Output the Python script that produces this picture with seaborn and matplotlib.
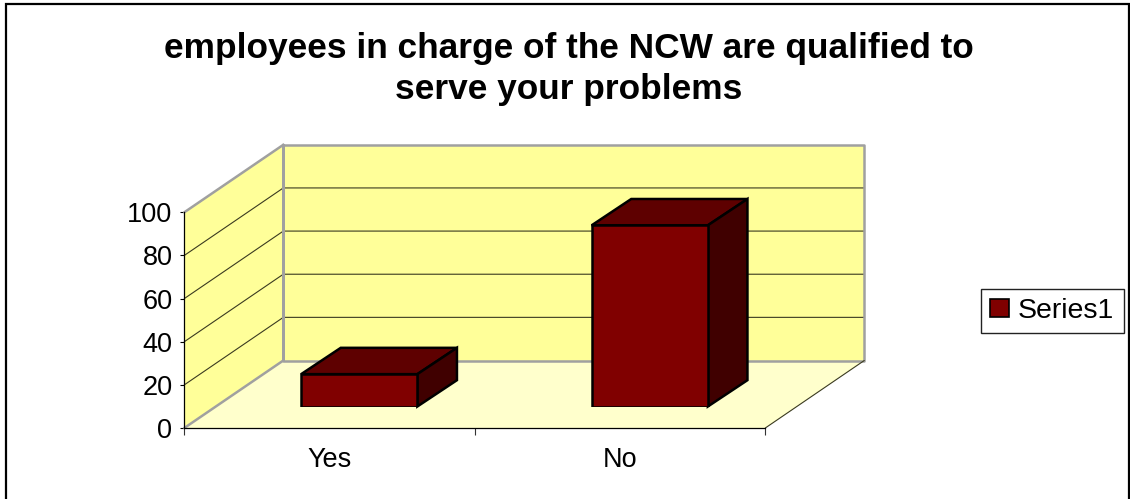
import pandas as pd
import matplotlib.pyplot as plt
import seaborn as sns
from matplotlib.patches import Polygon, Rectangle

# Values
categories = ['Yes', 'No']
values = [15, 84]
series_name = 'Series1'
y_ticks = [0, 20, 40, 60, 80, 100]
title = 'employees in charge of the NCW are qualified to\nserve your problems'

W, H = 1130, 499
sns.set_style('white')
plt.rcParams['font.family'] = ['Liberation Sans', 'DejaVu Sans']
plt.rcParams['text.color'] = 'black'

df = pd.DataFrame({'answer': categories, 'percent': values, 'series': series_name})

fig = plt.figure(figsize=(W / 100, H / 100), dpi=100)
fig.patch.set_facecolor('white')


def px_axes(left, right, top, bottom):
    return fig.add_axes([left / W, 1 - bottom / H, (right - left) / W, (bottom - top) / H])


# Step 1: the front plane of the chart box, holds the axis and the walls
ax = px_axes(184.3, 765.3, 212.3, 428)
ax.set_xlim(-0.5, 1.5)
ax.set_ylim(0, 100)
ax.patch.set_visible(False)

# depth of the box in data units (99 px across, 67.5 px up)
dx = 99 / (581 / 2)
dy = 67.5 / (215.7 / 100)
x0, x1 = -0.5, 1.5
y0, y1 = 0, 100

floor = [(x0, y0), (x1, y0), (x1 + dx, y0 + dy), (x0 + dx, y0 + dy)]
ax.add_patch(Polygon(floor, fc='#FFFFCC', ec='none', clip_on=False, zorder=1))
side = [(x0, y0), (x0 + dx, y0 + dy), (x0 + dx, y1 + dy), (x0, y1)]
ax.add_patch(Polygon(side, fc='#FFFF99', ec='none', clip_on=False, zorder=1))
back = [(x0 + dx, y0 + dy), (x1 + dx, y0 + dy), (x1 + dx, y1 + dy), (x0 + dx, y1 + dy)]
ax.add_patch(Polygon(back, fc='#FFFF99', ec='none', clip_on=False, zorder=1))

for t in y_ticks[1:-1]:
    ax.plot([x0, x0 + dx, x1 + dx], [t, t + dy, t + dy], color='#3a3a20', lw=0.8,
            clip_on=False, zorder=2)

gray = '#A0A0A0'
ax.plot([x0, x0 + dx, x0 + dx, x0 + dx], [y1, y1 + dy, y0 + dy, y1 + dy], color=gray, lw=1.8,
        clip_on=False, zorder=3)
ax.plot([x0 + dx, x1 + dx, x1 + dx, x0 + dx], [y1 + dy, y1 + dy, y0 + dy, y0 + dy], color=gray, lw=1.8,
        clip_on=False, zorder=3)
ax.plot([x0, x0 + dx], [y0, y0 + dy], color=gray, lw=1.8, clip_on=False, zorder=3)
ax.plot([x1, x1 + dx], [y0, y0 + dy], color='#3a3a20', lw=0.8, clip_on=False, zorder=3)

ax.set_yticks(y_ticks)
ax.set_xticks([0, 1])
ax.set_xticklabels(categories)
ax.set_xticks([-0.5, 0.5, 1.5], minor=True)
ax.tick_params(axis='y', length=3, width=0.8, color='black', left=True, labelsize=19.5, pad=5.5, labelcolor='black')
ax.tick_params(axis='x', which='major', length=0, labelsize=19.5, pad=13.5, labelcolor='black')
ax.tick_params(axis='x', which='minor', length=5, width=0.8, color='#333333', bottom=True)
for name in ['top', 'right']:
    ax.spines[name].set_visible(False)
for name in ['left', 'bottom']:
    ax.spines[name].set_color('black')
    ax.spines[name].set_linewidth(0.9)
    ax.spines[name].set_zorder(4)

# Step 2: bars live on a plane 30% of the way into the box
ax_bars = px_axes(184.3 + 29.7, 765.3 + 29.7, 212.3 - 21.5, 428 - 21.5)
sns.barplot(data=df, x='answer', y='percent', hue='series', palette=['#800000'], width=0.4,
            edgecolor='black', linewidth=1.8, saturation=1, ax=ax_bars, legend=True, zorder=5)
ax_bars.set_xlim(-0.5, 1.5)
ax_bars.set_ylim(0, 100)

bar_dx = dx * 0.4
bar_dy = dy * 0.39
for bar in ax_bars.containers[0]:
    l, r = bar.get_x(), bar.get_x() + bar.get_width()
    h = bar.get_height()
    top = [(l, h), (r, h), (r + bar_dx, h + bar_dy), (l + bar_dx, h + bar_dy)]
    right = [(r, 0), (r + bar_dx, bar_dy), (r + bar_dx, h + bar_dy), (r, h)]
    ax_bars.add_patch(Polygon(top, fc='#5E0000', ec='black', lw=1.8, clip_on=False, zorder=4, joinstyle='miter'))
    ax_bars.add_patch(Polygon(right, fc='#400000', ec='black', lw=1.8, clip_on=False, zorder=4, joinstyle='miter'))

handles, labels = ax_bars.get_legend_handles_labels()
ax_bars.get_legend().remove()
ax_bars.set_axis_off()

# Step 3: legend, title and the outer frame
leg = fig.legend(handles, labels, loc='center left', bbox_to_anchor=(981 / W, 1 - 311 / H),
                 frameon=True, fancybox=False, edgecolor='#222222', framealpha=1, fontsize=20.5,
                 handlelength=0.65, handleheight=0.6, handletextpad=0.32, borderpad=0.33,
                 borderaxespad=0)
leg.get_frame().set_linewidth(1.0)
for h in leg.legend_handles:
    h.set_edgecolor('black')
    h.set_linewidth(1.2)
for t in leg.get_texts():
    t.set_color('black')

fig.text(568.5 / W, 1 - 69 / H, title, ha='center', va='center', fontsize=25.4, fontweight='bold',
         color='black', linespacing=1.27)

fig.add_artist(Rectangle((5.5 / W, 1 - 520 / H), 1123 / W, 516 / H, transform=fig.transFigure,
                         fc='none', ec='black', lw=1.6))

fig.savefig('out.png', dpi=100)
